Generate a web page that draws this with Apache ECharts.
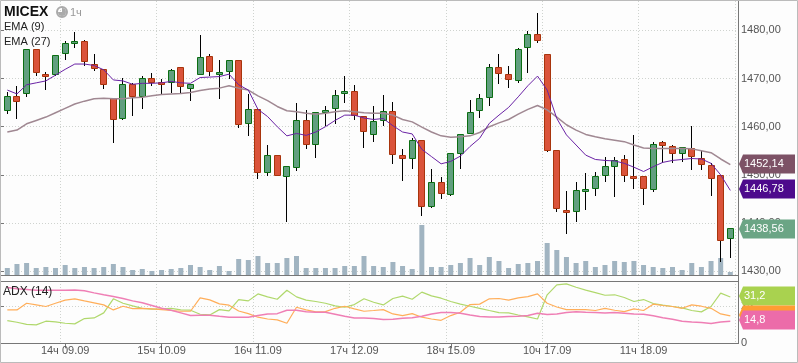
<!DOCTYPE html>
<html>
<head>
<meta charset="utf-8">
<style>
    html, body { margin: 0; padding: 0; background: #fff; }
    #chart { width: 798px; height: 363px; }
</style>
<script src="https://cdn.jsdelivr.net/npm/echarts@6/dist/echarts.min.js"></script>
</head>
<body>
<div id="chart"></div>
<script>
var dateLabels = ['14ч 09.09', '15ч 10.09', '16ч 11.09', '17ч 12.09', '18ч 15.09', '10ч 17.09', '11ч 18.09'];

// open, close, low, high
var candles = [
    [1463.2,1466.1,1462.6,1467.1],[1466.1,1465.1,1461.7,1468.5],[1466.7,1475.9,1466.2,1476.1],[1475.9,1471.1,1470.5,1475.9],
    [1470.7,1470.4,1467.6,1471.4],[1470.7,1474.6,1470.5,1474.9],[1475.0,1477.1,1473.8,1477.7],[1477.3,1477.5,1476.4,1479.6],
    [1477.5,1473.4,1472.5,1478.0],[1472.9,1472.0,1471.6,1475.1],[1471.7,1468.6,1467.8,1471.9],[1465.8,1461.3,1456.7,1465.8],
    [1461.5,1468.6,1461.3,1470.2],[1468.6,1466.2,1462.2,1469.0],[1466.1,1469.8,1463.7,1470.5],[1469.8,1469.1,1468.5,1471.2],
    [1469.0,1468.7,1466.5,1469.8],[1469.0,1471.5,1466.9,1471.9],[1472.1,1468.2,1466.7,1472.1],[1467.8,1468.6,1465.3,1468.6],
    [1470.7,1474.2,1470.7,1479.0],[1474.4,1471.3,1470.5,1475.1],[1470.8,1471.1,1465.8,1473.8],[1471.3,1473.6,1470.0,1473.8],
    [1473.6,1460.3,1459.7,1473.6],[1460.5,1463.4,1458.1,1466.7],[1463.4,1450.3,1449.2,1463.4],[1450.3,1453.9,1449.8,1456.3],
    [1453.9,1449.8,1449.8,1453.9],[1449.6,1451.6,1440.3,1451.6],[1451.5,1461.1,1450.9,1464.9],[1461.1,1456.3,1455.4,1463.5],
    [1456.3,1462.8,1453.5,1462.8],[1462.9,1463.2,1460.2,1464.2],[1463.6,1466.3,1460.6,1467.6],[1466.7,1467.3,1464.9,1470.5],
    [1467.3,1462.3,1461.4,1468.7],[1462.0,1459.0,1455.6,1462.2],[1458.2,1460.9,1456.8,1464.3],[1461.1,1463.0,1460.2,1466.6],
    [1463.0,1454.2,1452.3,1465.1],[1453.9,1453.2,1448.7,1455.4],[1453.4,1457.0,1451.2,1457.7],[1457.0,1443.4,1441.5,1457.0],
    [1443.4,1448.3,1443.1,1451.2],[1448.3,1446.0,1445.0,1449.6],[1445.9,1454.3,1445.6,1454.3],[1454.4,1458.2,1451.2,1458.2],
    [1458.4,1462.8,1458.4,1465.5],[1463.2,1465.7,1461.9,1466.8],[1465.9,1472.1,1464.2,1473.0],[1472.1,1470.9,1468.9,1475.1],
    [1470.7,1469.6,1468.0,1472.6],[1469.4,1475.9,1469.1,1476.3],[1476.3,1479.0,1471.2,1479.9],[1479.0,1477.7,1477.4,1483.5],
    [1474.8,1455.0,1454.8,1474.8],[1454.9,1442.9,1442.2,1454.9],[1442.5,1442.2,1437.8,1446.7],[1442.2,1446.6,1440.2,1448.5],
    [1446.6,1446.9,1442.7,1450.4],[1447.0,1449.5,1445.6,1450.6],[1449.7,1451.6,1448.5,1453.7],[1451.6,1452.8,1445.4,1453.7],
    [1453.0,1449.7,1448.5,1454.1],[1449.5,1449.2,1447.1,1458.3],[1449.5,1447.0,1443.8,1449.5],[1446.9,1456.3,1446.5,1456.8],
    [1456.6,1455.9,1452.4,1457.0],[1455.7,1454.3,1452.5,1456.2],[1454.3,1455.5,1452.7,1455.5],[1455.3,1453.7,1451.0,1460.2],
    [1453.2,1452.0,1451.0,1455.1],[1451.8,1449.1,1445.6,1452.4],[1449.7,1436.2,1432.0,1449.7],[1436.6,1438.7,1432.8,1438.7]
];

var ema9 = [
    1467.6,1466.8,1468.7,1469.1,1469.5,1470.7,1471.9,1473.0,1473.0,1472.7,1471.8,1469.7,1469.5,1468.8,1469.0,1469.0,
    1469.1,1469.4,1469.1,1469.0,1470.2,1470.3,1470.4,1470.9,1468.7,1467.6,1463.6,1462.1,1460.0,1458.1,1458.6,1458.2,
    1458.9,1460.0,1461.3,1462.4,1462.4,1461.8,1461.5,1461.7,1460.2,1458.9,1458.5,1455.3,1453.8,1452.3,1452.8,1453.9,
    1455.9,1457.6,1460.7,1462.4,1464.0,1466.2,1468.5,1470.5,1467.6,1461.7,1458.3,1456.2,1454.1,1453.2,1453.0,1452.9,
    1452.4,1451.6,1450.7,1451.7,1452.6,1453.0,1453.2,1453.4,1453.3,1452.4,1450.0,1446.78
];
var ema27 = [
    1458.9,1459.3,1460.6,1461.3,1462.0,1462.9,1463.8,1464.7,1465.3,1465.8,1465.9,1465.8,1465.8,1466.0,1466.1,1466.4,
    1466.7,1466.8,1466.9,1467.1,1467.5,1467.8,1468.0,1468.5,1468.0,1467.6,1466.4,1465.4,1464.2,1463.3,1463.1,1462.8,
    1462.6,1462.8,1463.1,1463.3,1463.1,1462.9,1462.8,1462.8,1462.4,1461.5,1461.0,1459.9,1458.9,1458.1,1457.8,1457.9,
    1458.1,1458.8,1460.0,1460.8,1461.5,1462.6,1463.6,1464.4,1463.5,1462.0,1460.4,1459.3,1458.4,1457.9,1457.5,1457.2,
    1456.9,1456.2,1455.6,1455.5,1455.5,1455.5,1455.5,1455.4,1455.0,1454.6,1453.3,1452.14
];

var volume = [
    7,11,12,7,8,7,10,7,8,7,8,11,8,5,6,4,5,6,7,10,8,5,9,4,16,15,19,12,
    12,17,19,7,7,7,7,9,9,19,9,8,13,9,6,50,8,8,10,12,17,10,18,14,7,11,12,14,
    32,25,18,12,14,8,10,14,13,14,10,8,7,8,5,12,8,14,17,3
];

var adxMain = [
    37.6,36.7,36.3,35.8,35.8,35.8,35.8,36.0,35.4,34.0,32.7,31.5,30.2,28.6,27.3,25.5,23.6,22.3,20.5,18.7,18.9,18.9,18.2,17.6,17.6,17.6,18.7,19.8,
    20.0,22.3,22.3,21.2,20.9,20.9,19.6,18.2,17.1,17.1,16.7,16.0,16.2,16.9,17.3,18.2,19.8,20.7,20.7,20.3,19.1,18.0,17.8,17.8,18.0,18.2,18.7,20.3,
    19.4,19.8,20.7,21.2,20.9,20.7,20.5,20.7,20.3,19.8,19.6,18.5,17.3,16.2,14.9,14.4,14.0,13.3,14.4,14.8
];
var adxMinus = [
    22.5,22.5,27.0,25.9,24.8,27.0,29.1,30.0,28.6,27.3,25.9,22.5,25.0,23.4,23.6,23.2,22.7,22.1,21.6,21.6,30.6,29.3,26.6,25.7,21.8,20.0,17.6,16.4,
    15.8,13.5,24.3,22.5,21.2,21.4,23.6,25.0,23.2,21.6,22.1,22.7,19.8,18.7,20.0,17.6,16.4,15.5,18.7,20.9,26.1,26.4,30.0,30.2,29.1,30.6,31.5,33.3,
    27.0,24.5,22.7,22.7,22.7,22.1,23.6,22.3,21.4,23.2,22.1,26.4,25.5,24.8,23.6,25.9,25.0,23.6,19.8,18.5
];
var adxPlus = [
    15.3,14.2,12.8,12.4,14.9,14.4,13.5,13.1,16.7,17.1,20.5,30.0,27.0,25.2,23.6,23.0,23.2,23.6,22.5,22.3,19.6,19.1,22.7,21.8,29.5,28.6,33.3,31.3,
    29.7,35.8,31.3,29.1,28.2,27.0,25.2,24.3,26.1,30.0,27.7,25.9,30.2,31.8,29.7,34.5,32.0,30.4,28.2,26.4,25.0,23.6,22.1,20.7,20.5,19.1,17.8,16.4,
    32.7,39.4,40.1,37.8,35.8,34.2,32.4,32.7,30.9,28.2,29.5,26.8,25.7,24.8,23.9,22.1,21.2,24.8,33.8,31.2
];

var categories = candles.map(function (c, i) {
    return (i - 6) % 10 === 0 ? dateLabels[(i - 6) / 10] : '';
});
var isDateTick = function (i) { return (i - 6) % 10 === 0; };

var gridLine = { show: true, lineStyle: { color: '#cfd3cf', type: [1, 2], width: 1 } };
var axisGray = '#777';
var priceTop = -17.9, priceHeight = 289.2;
var plotLeft = 2.5, plotWidth = 732.64, axisX = 738;

function renderCandle(params, api) {
    var x = Math.floor(api.coord([api.value(0), api.value(1)])[0]);
    var open = api.value(1), close = api.value(2);
    var top = Math.round(api.coord([0, Math.max(open, close)])[1]);
    var bottom = Math.round(api.coord([0, Math.min(open, close)])[1]);
    var high = Math.round(api.coord([0, api.value(4)])[1]);
    var low = Math.round(api.coord([0, api.value(3)])[1]);
    if (bottom - top < 2) bottom = top + 2;
    var up = close >= open;
    return {
        type: 'group',
        children: [
            { type: 'rect', shape: { x: x, y: high, width: 1, height: low - high }, style: { fill: '#000' } },
            {
                type: 'rect',
                shape: { x: x - 2.5, y: top - 0.5, width: 6, height: bottom - top },
                style: { fill: up ? '#619f7f' : '#da533a', stroke: up ? '#0b6e12' : '#a8340c', lineWidth: 1 }
            }
        ]
    };
}

function lineSeries(name, data, color, xi, yi, width) {
    return {
        name: name, type: 'line', xAxisIndex: xi, yAxisIndex: yi, data: data, z: 5,
        showSymbol: false, symbol: 'none', silent: true,
        lineStyle: { color: color, width: width }
    };
}

function plotGrid(left, width, top, height) {
    return { left: left, width: width, top: top, height: height, outerBoundsMode: 'none' };
}

var chart = echarts.init(document.getElementById('chart'), null, { renderer: 'canvas' });
chart.setOption({
    animation: false,
    backgroundColor: '#fdfdfd',
    textStyle: { fontFamily: '"Liberation Sans", Arial, sans-serif' },
    grid: [
        plotGrid(0, axisX, priceTop, priceHeight),
        plotGrid(plotLeft, plotWidth, priceTop, priceHeight),
        plotGrid(plotLeft, plotWidth, 1, 274),
        plotGrid(0, axisX, 281, 62.3),
        plotGrid(plotLeft, plotWidth, 281, 62.3)
    ],
    xAxis: [
        { gridIndex: 0, type: 'value', min: 0, max: 1, show: false },
        { gridIndex: 1, type: 'category', data: categories, show: false },
        {
            gridIndex: 2, type: 'category', data: categories,
            axisLine: { show: false }, axisTick: { show: false }, axisLabel: { show: false },
            splitLine: { show: true, interval: isDateTick, lineStyle: gridLine.lineStyle }
        },
        { gridIndex: 3, type: 'value', min: 0, max: 1, show: false },
        {
            gridIndex: 4, type: 'category', data: categories,
            axisLine: { show: false },
            axisTick: { show: true, interval: isDateTick, alignWithLabel: true, length: 5, lineStyle: { color: axisGray } },
            axisLabel: { show: true, interval: isDateTick, color: '#555', fontSize: 11, margin: 2 },
            splitLine: { show: true, interval: isDateTick, lineStyle: gridLine.lineStyle }
        }
    ],
    yAxis: [
        {
            gridIndex: 0, type: 'value', position: 'right', min: 1430, max: 1490, interval: 10,
            axisLine: { show: false },
            axisTick: { show: true, length: 4, lineStyle: { color: axisGray } },
            axisLabel: {
                color: '#555', fontSize: 11, margin: 3,
                formatter: function (v) { return v.toFixed(2).replace('.', ','); }
            },
            splitLine: gridLine
        },
        { gridIndex: 1, type: 'value', min: 1430, max: 1490, show: false },
        { gridIndex: 2, type: 'value', min: 0, max: 274, show: false },
        {
            gridIndex: 3, type: 'value', position: 'right', min: 0, max: 42, interval: 25,
            axisLine: { show: false },
            axisTick: { show: true, length: 4, lineStyle: { color: axisGray } },
            axisLabel: { color: '#555', fontSize: 11, margin: 3, showMaxLabel: false },
            splitLine: gridLine
        },
        { gridIndex: 4, type: 'value', min: 0, max: 42, show: false }
    ],
    series: [
        {
            name: 'Volume', type: 'bar', xAxisIndex: 2, yAxisIndex: 2, data: volume,
            barWidth: 5, itemStyle: { color: '#a1b4c1' }, z: 1, silent: true
        },
        {
            name: 'MICEX', type: 'custom', xAxisIndex: 1, yAxisIndex: 1, z: 3, silent: true,
            data: candles.map(function (c, i) { return [i, c[0], c[1], c[2], c[3]]; }),
            encode: { x: 0, y: [1, 2, 3, 4] },
            renderItem: renderCandle
        },
        lineSeries('EMA (27)', ema27, '#a08892', 1, 1, 1.5),
        lineSeries('EMA (9)', ema9, '#6a22a5', 1, 1, 1),
        lineSeries('+DI', adxPlus, '#b0d86c', 4, 4, 1.2),
        lineSeries('-DI', adxMinus, '#ffae5a', 4, 4, 1.2),
        lineSeries('ADX', adxMain, '#ef7fb5', 4, 4, 1.5)
    ]
});

function priceTag(yAxisIndex, value, text, color) {
    var y = Math.round(chart.convertToPixel({ yAxisIndex: yAxisIndex }, value)) - 1;
    return {
        type: 'group',
        children: [
            {
                type: 'polygon', z: 50, zlevel: 1,
                shape: { points: [[739, y], [743, y - 9.5], [795, y - 9.5], [795, y + 9.5], [743, y + 9.5]] },
                style: { fill: color }
            },
            {
                type: 'text', z: 51, zlevel: 1, x: 744, y: y,
                style: { text: text, fill: '#fff', font: '11px "Liberation Sans", Arial', textVerticalAlign: 'middle' }
            }
        ]
    };
}

function panelLine(x1, y1, x2, y2, color, width) {
    return { type: 'line', z: 15, shape: { x1: x1, y1: y1, x2: x2, y2: y2 }, style: { stroke: color, lineWidth: width } };
}

function caption(text, x, y, font, fill) {
    return { type: 'text', z: 18, x: x, y: y, style: { text: text, font: font, fill: fill, textVerticalAlign: 'middle' } };
}

chart.setOption({
    graphic: [
        panelLine(0, 275.5, axisX, 275.5, axisGray, 1),
        panelLine(0, 281.5, axisX, 281.5, axisGray, 1),
        panelLine(0, 343.5, axisX, 343.5, axisGray, 1),
        panelLine(axisX + 0.5, 1, axisX + 0.5, 344, axisGray, 1),
        { type: 'rect', z: 16, shape: { x: 0.5, y: 0.5, width: 797, height: 362 }, style: { fill: 'none', stroke: '#bbb', lineWidth: 1 } },
        caption('MICEX', 4, 12.5, 'bold 14px "Liberation Sans", Arial', '#111'),
        { type: 'circle', z: 18, shape: { cx: 62, cy: 12, r: 5 }, style: { fill: 'none', stroke: '#aaa', lineWidth: 2 } },
        { type: 'sector', z: 18, shape: { cx: 62, cy: 12, r: 4, r0: 0, startAngle: -Math.PI / 2, endAngle: Math.PI }, style: { fill: '#aaa' } },
        caption('1ч', 70, 13, '11px "Liberation Sans", Arial', '#999'),
        caption('EMA (9)', 4, 26.5, '11px "Liberation Sans", Arial', '#222'),
        caption('EMA (27)', 4, 42, '11px "Liberation Sans", Arial', '#222'),
        caption('ADX (14)', 3, 292, '12px "Liberation Sans", Arial', '#222'),
        priceTag(0, 1452.14, '1452,14', '#7d5266'),
        priceTag(0, 1446.78, '1446,78', '#4d0a8c'),
        priceTag(0, 1438.56, '1438,56', '#6ba585'),
        priceTag(3, 31.2, '31,2', '#a9d24f'),
        priceTag(3, 18.5, '', '#ff9d33'),
        priceTag(3, 14.8, '14,8', '#ec6ca9')
    ]
});
</script>
</body>
</html>
